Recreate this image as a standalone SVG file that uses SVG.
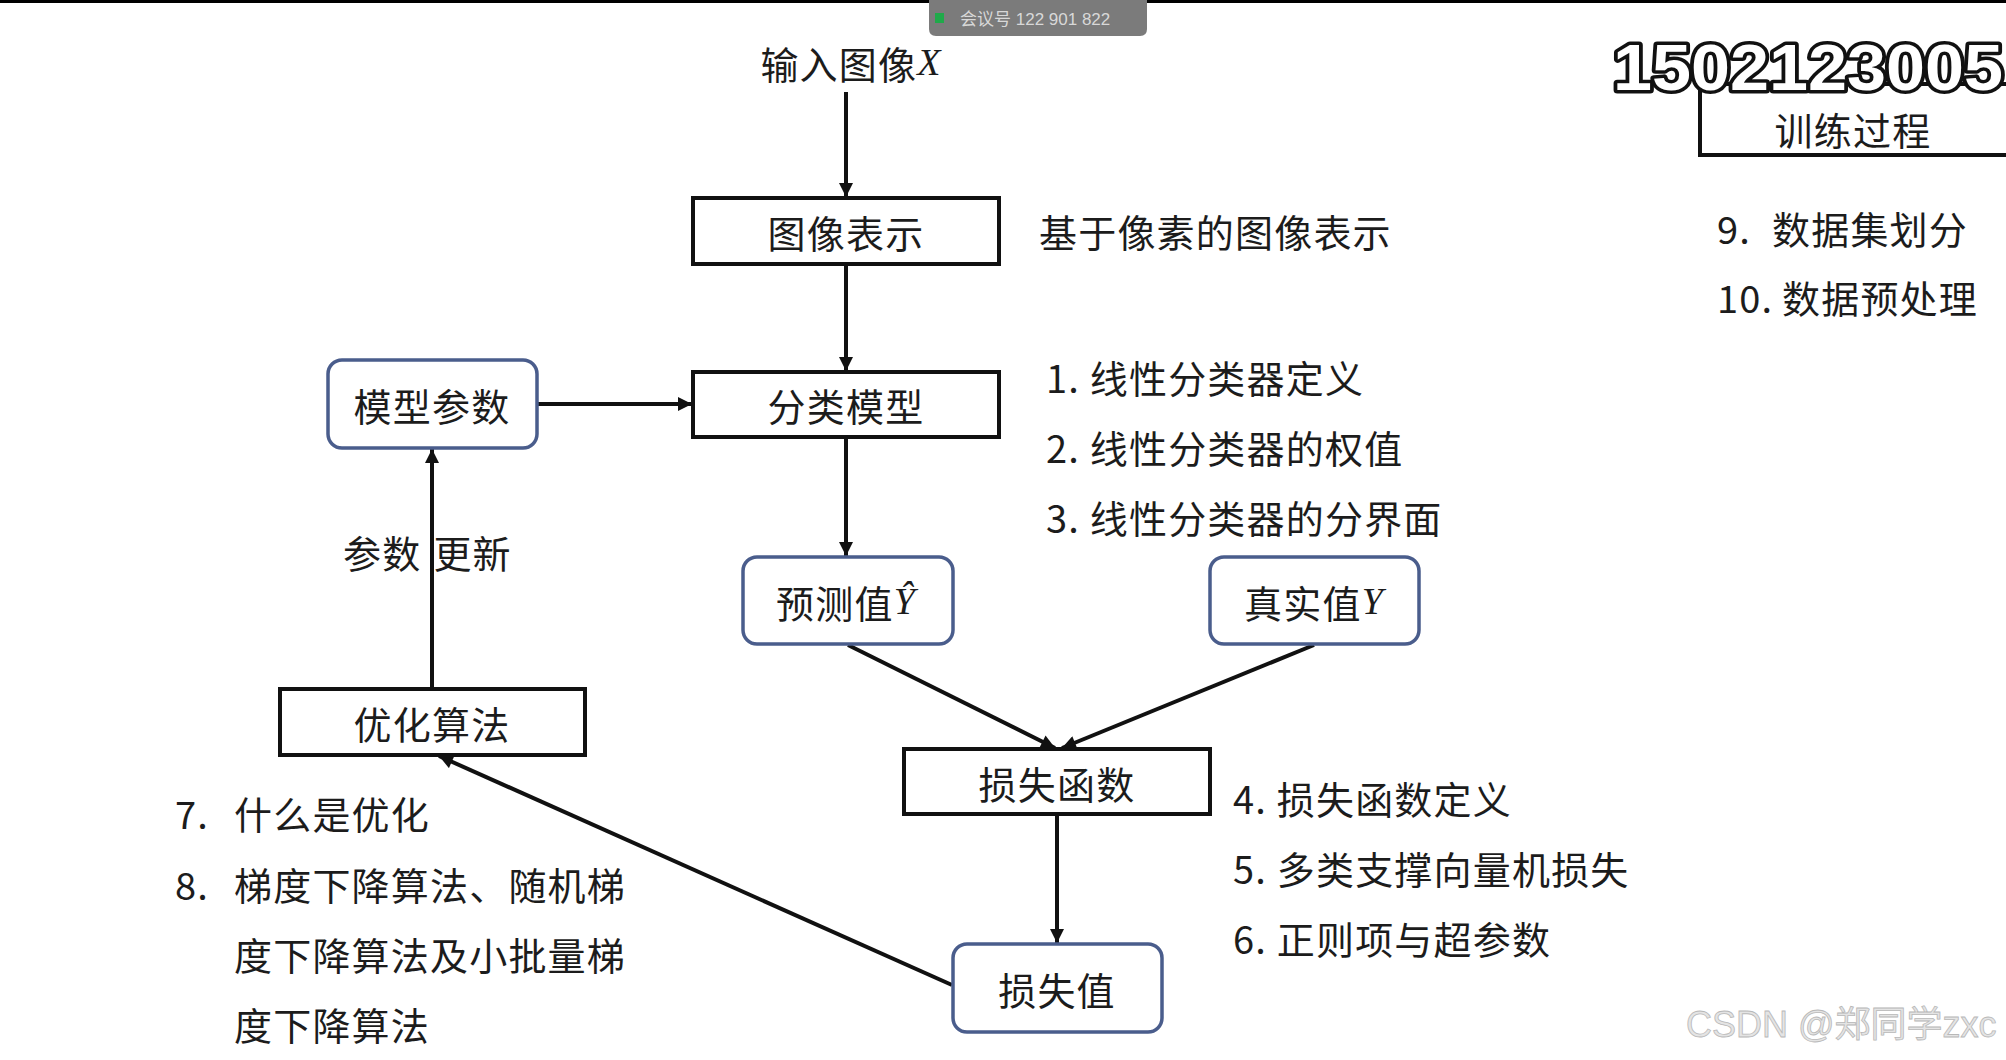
<svg xmlns="http://www.w3.org/2000/svg" width="2006" height="1060" viewBox="0 0 2006 1060">
<defs>
<marker id="ah" viewBox="0 0 10 10" refX="10" refY="5" markerWidth="16" markerHeight="14" markerUnits="userSpaceOnUse" orient="auto">
<path d="M0,0 L10,5 L0,10 z" fill="#111"/>
</marker>
<style>
.t{font-family:"Noto Sans CJK SC","Noto Sans",sans-serif;font-size:38px;letter-spacing:1.2px;fill:#1c1c1c;dominant-baseline:central}
.c{text-anchor:middle}
.m{font-family:"Liberation Serif",serif;font-style:italic}
.sq{fill:#fff;stroke:#111;stroke-width:4}
.rd{fill:#fff;stroke:#4a5d8c;stroke-width:3.5}
.ln{stroke:#111;stroke-width:4;fill:none}
</style>
</defs>
<rect x="0" y="0" width="2006" height="1060" fill="#fff"/>
<rect x="0" y="0" width="2006" height="3" fill="#000"/>
<g id="meeting">
<path d="M929,0 H1147 V29 Q1147,36 1140,36 H936 Q929,36 929,29 Z" fill="#7b7b7b"/>
<rect x="935" y="13" width="9" height="10" fill="#1faa4a"/>
<text x="960" y="19" font-family="'Liberation Sans','Noto Sans CJK SC',sans-serif" font-size="17" fill="#d8d8d8" dominant-baseline="central">会议号 122 901 822</text>
</g>
<g id="connectors">
<line class="ln" x1="846" y1="92" x2="846" y2="197" marker-end="url(#ah)"/>
<line class="ln" x1="846" y1="264" x2="846" y2="371" marker-end="url(#ah)"/>
<line class="ln" x1="537" y1="404" x2="692" y2="404" marker-end="url(#ah)"/>
<line class="ln" x1="846" y1="437" x2="846" y2="556" marker-end="url(#ah)"/>
<line class="ln" x1="848" y1="645" x2="1055" y2="748" marker-end="url(#ah)" stroke-width="5"/>
<line class="ln" x1="1314" y1="645" x2="1062" y2="748" marker-end="url(#ah)" stroke-width="5"/>
<line class="ln" x1="1057" y1="814" x2="1057" y2="943" marker-end="url(#ah)" stroke-width="3"/>
<line class="ln" x1="952" y1="985" x2="439" y2="756" marker-end="url(#ah)" stroke-width="5"/>
<line class="ln" x1="432" y1="688" x2="432" y2="449" marker-end="url(#ah)"/>
</g>
<g id="input"><text class="t c" x="851" y="62">输入图像<tspan class="m">X</tspan></text></g>
<g id="img-repr"><rect class="sq" x="693" y="198" width="306" height="66"/><text class="t c" x="846" y="231">图像表示</text></g>
<text class="t" x="1039" y="230">基于像素的图像表示</text>
<g id="classifier"><rect class="sq" x="693" y="372" width="306" height="65"/><text class="t c" x="846" y="404">分类模型</text></g>
<g id="params"><rect class="rd" x="328" y="360" width="209" height="88" rx="14"/><text class="t c" x="432" y="404">模型参数</text></g>
<text class="t" x="1046" y="376">1. 线性分类器定义</text>
<text class="t" x="1046" y="446">2. 线性分类器的权值</text>
<text class="t" x="1046" y="516">3. 线性分类器的分界面</text>
<g id="pred"><rect class="rd" x="743" y="557" width="210" height="87" rx="14"/><text class="t c" x="846" y="601">预测值<tspan class="m">Ŷ</tspan></text></g>
<g id="truth"><rect class="rd" x="1210" y="557" width="209" height="87" rx="14"/><text class="t c" x="1314" y="601">真实值<tspan class="m">Y</tspan></text></g>
<g id="lossfn"><rect class="sq" x="904" y="749" width="306" height="65"/><text class="t c" x="1057" y="782">损失函数</text></g>
<text class="t" x="1233" y="797">4. 损失函数定义</text>
<text class="t" x="1233" y="867">5. 多类支撑向量机损失</text>
<text class="t" x="1233" y="937">6. 正则项与超参数</text>
<g id="lossval"><rect class="rd" x="953" y="944" width="209" height="88" rx="14"/><text class="t c" x="1057" y="988">损失值</text></g>
<g id="optim"><rect class="sq" x="280" y="689" width="305" height="66"/><text class="t c" x="432" y="722">优化算法</text></g>
<text class="t" x="343" y="551">参数<tspan dx="12">更新</tspan></text>
<text class="t" x="175" y="812">7.</text><text class="t" x="234" y="812">什么是优化</text>
<text class="t" x="175" y="883">8.</text><text class="t" x="234" y="883">梯度下降算法、随机梯</text>
<text class="t" x="234" y="953">度下降算法及小批量梯</text>
<text class="t" x="234" y="1023">度下降算法</text>
<g id="title">
<rect x="1700" y="84" width="320" height="71" fill="#fff" stroke="#111" stroke-width="4"/>
<text x="1613" y="90" font-family="'Liberation Sans',Arial,sans-serif" font-weight="bold" font-size="64" fill="#fff" stroke="#111" stroke-width="7" stroke-linejoin="round" paint-order="stroke" textLength="390" lengthAdjust="spacingAndGlyphs">1502123005</text>
<text class="t c" x="1853" y="128">训练过程</text>
</g>
<text class="t" x="1717" y="227">9.</text><text class="t" x="1772" y="227">数据集划分</text>
<text class="t" x="1717" y="296">10.</text><text class="t" x="1782" y="296">数据预处理</text>
<text x="1686" y="1024" font-family="'Liberation Sans','Noto Sans CJK SC',sans-serif" font-size="36" fill="#e4e4e4" stroke="#b8b8b8" stroke-width="0.8" dominant-baseline="central">CSDN @郑同学zxc</text>
</svg>
